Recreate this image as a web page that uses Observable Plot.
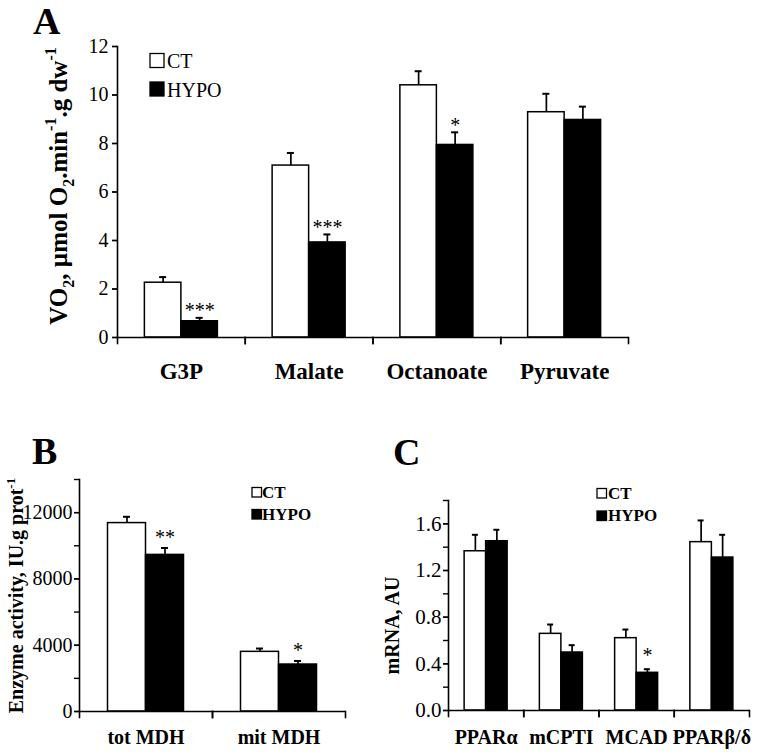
<!DOCTYPE html>
<html><head><meta charset="utf-8">
<script src="https://cdn.jsdelivr.net/npm/d3@7"></script>
<script src="https://cdn.jsdelivr.net/npm/@observablehq/plot@0.6"></script>
<style>
body{margin:0;background:#fff;}
#root{position:relative;width:764px;height:756px;background:#fff;font-family:"Liberation Serif",serif;}
.panel{position:absolute;}
</style></head><body><div id="root"></div>
<script>
// ---------- Data ----------
const groups = ["CT", "HYPO"];

// Panel A: VO2 with substrates
const catsA = ["G3P", "Malate", "Octanoate", "Pyruvate"];
const ctA = [2.26, 7.09, 10.40, 9.29];
const ctUpperA = [2.49, 7.61, 10.98, 10.05];
const hypoA = [0.67, 3.92, 7.94, 8.97];
const hypoUpperA = [0.81, 4.25, 8.46, 9.52];
const sigA = ["***", "***", "*", ""];
const yTicksA = [0, 2, 4, 6, 8, 10, 12];

// Panel B: MDH enzyme activity
const catsB = ["tot MDH", "mit MDH"];
const ctB = [11370, 3600];
const ctUpperB = [11750, 3800];
const hypoB = [9450, 2835];
const hypoUpperB = [9865, 3050];
const sigB = ["**", "*"];
const yMinorB = [0, 2000, 4000, 6000, 8000, 10000, 12000, 14000];
const yTicksB = [0, 4000, 8000, 12000];

// Panel C: mRNA
const catsC = ["PPARα", "mCPTI", "MCAD", "PPARβ/δ"];
const ctC = [1.365, 0.657, 0.62, 1.443];
const ctUpperC = [1.506, 0.737, 0.694, 1.629];
const hypoC = [1.451, 0.497, 0.323, 1.311];
const hypoUpperC = [1.549, 0.56, 0.354, 1.506];
const sigC = ["", "", "*", ""];
const yMinorC = [0, 0.2, 0.4, 0.6, 0.8, 1.0, 1.2, 1.4, 1.6, 1.8];
const yTicksC = [0, 0.4, 0.8, 1.2, 1.6];

// ---------- Helpers ----------
function rows(cats, ct, ctU, hy, hyU, sig) {
  return cats.flatMap((c, i) => [
    {cat: c, group: groups[0], value: ct[i], upper: ctU[i], sig: ""},
    {cat: c, group: groups[1], value: hy[i], upper: hyU[i], sig: sig[i]}
  ]);
}

const FONT = '"Liberation Serif", "Times New Roman", serif';

function panel(cfg) {
  const data = rows(...cfg.series);
  const innerH = cfg.height - cfg.marginTop - cfg.marginBottom;
  const svg = Plot.plot({
    width: cfg.width, height: cfg.height,
    marginLeft: cfg.marginLeft, marginRight: cfg.marginRight,
    marginTop: cfg.marginTop, marginBottom: cfg.marginBottom,
    style: {fontFamily: FONT, fontSize: cfg.tickFont + "px", color: "black", background: "white", overflow: "visible"},
    fx: {domain: cfg.series[0], padding: 0, round: false},
    x: {domain: groups, paddingInner: 0, paddingOuter: 0.75, round: false, axis: null},
    y: {domain: cfg.yDomain},
    marks: [
      Plot.ruleX(data, {fx: "cat", x: "group", y1: "value", y2: "upper", stroke: "black", strokeWidth: 1.7}),
      Plot.tickY(data, {fx: "cat", x: "group", y: "upper", stroke: "black", strokeWidth: 2, insetLeft: cfg.capInset, insetRight: cfg.capInset}),
      Plot.barY(data.filter(d => d.group === groups[0]), {fx: "cat", x: "group", y: "value", fill: "white", stroke: "black", strokeWidth: 1.5}),
      Plot.barY(data.filter(d => d.group === groups[1]), {fx: "cat", x: "group", y: "value", fill: "black", stroke: "black", strokeWidth: 1.5}),
      Plot.text(data.filter(d => d.sig), {fx: "cat", x: "group", y: "upper", text: "sig", lineAnchor: "middle", dy: cfg.sigDy, fontSize: cfg.sigFont, fill: "black"}),
      Plot.ruleY([0], {stroke: "black", strokeWidth: 1.6}),
      Plot.frame({anchor: "left", facetAnchor: "left", stroke: "black", strokeWidth: 1.6}),
      Plot.frame({anchor: "left", insetTop: innerH, insetBottom: -6, stroke: "black", strokeWidth: 1.6}),
      Plot.frame({anchor: "right", insetTop: innerH, insetBottom: -6, stroke: "black", strokeWidth: 1.6}),
      Plot.axisY({ticks: cfg.yMinor, tickFormat: () => "", tickSize: 5, strokeWidth: 1.4, label: null}),
      Plot.axisY({ticks: cfg.yTicks, tickFormat: cfg.fmt, tickSize: 5, tickPadding: cfg.tickPad, strokeWidth: 1.4, fontSize: cfg.tickFont, label: null}),
      Plot.axisFx({anchor: "bottom", tickSize: 0, tickPadding: cfg.catPad, fontSize: cfg.catFont, fontWeight: "bold", label: null}),
      Plot.text([cfg.title], {text: d => d, frameAnchor: "left", facetAnchor: "left", rotate: -90, textAnchor: "middle", lineAnchor: "middle", dx: cfg.titleDx, dy: cfg.titleDy, fontSize: cfg.titleFont, fontWeight: "bold", fill: "black"})
    ]
  });
  if (cfg.richTitle) {
    const t = Array.from(svg.querySelectorAll("text")).find(e => e.textContent === cfg.title);
    if (t) {
      while (t.firstChild) t.removeChild(t.firstChild);
      const F = cfg.titleFont;
      let shift = 0;
      for (const [s, kind] of cfg.richTitle) {
        const ts = document.createElementNS("http://www.w3.org/2000/svg", "tspan");
        const target = kind === "sub" ? 0.28 * F : kind === "sup" ? -0.42 * F : 0;
        ts.setAttribute("dy", target - shift);
        if (kind) ts.setAttribute("font-size", Math.round(0.65 * F));
        shift = target;
        ts.textContent = s;
        t.appendChild(ts);
      }
    }
  }
  const wrap = document.createElement("div");
  wrap.className = "panel";
  wrap.style.left = cfg.left + "px";
  wrap.style.top = cfg.top + "px";
  wrap.appendChild(svg);
  document.getElementById("root").appendChild(wrap);
}

// ---------- Panel A ----------
panel({
  series: [catsA, ctA, ctUpperA, hypoA, hypoUpperA, sigA],
  left: 0, top: 0, width: 640, height: 390,
  marginLeft: 117, marginRight: 12, marginTop: 46, marginBottom: 53,
  yDomain: [0, 12], yMinor: yTicksA, yTicks: yTicksA, fmt: d3.format("d"), tickPad: 4,
  tickFont: 20, catFont: 23, catPad: 25, capInset: 14.75, sigFont: 20, sigDy: -7,
  title: "VO2, µmol O2.min-1.g dw-1", titleFont: 25, titleDx: -59, titleDy: -6,
  richTitle: [["VO", null], ["2", "sub"], [", µmol O", null], ["2", "sub"], [".min", null], ["-1", "sup"], [".g dw", null], ["-1", "sup"]]
});

// ---------- Panel B ----------
panel({
  series: [catsB, ctB, ctUpperB, hypoB, hypoUpperB, sigB],
  left: 0, top: 400, width: 360, height: 356,
  marginLeft: 79, marginRight: 15, marginTop: 79, marginBottom: 45,
  yDomain: [0, 14000], yMinor: yMinorB, yTicks: yTicksB, fmt: d3.format("d"), tickPad: 2,
  tickFont: 20, catFont: 20, catPad: 18, capInset: 15.5, sigFont: 20, sigDy: -10.5,
  title: "Enzyme activity, IU.g prot-1", titleFont: 20, titleDx: -63, titleDy: 0,
  richTitle: [["Enzyme activity, IU.g prot", null], ["-1", "sup"]]
});

// ---------- Panel C ----------
panel({
  series: [catsC, ctC, ctUpperC, hypoC, hypoUpperC, sigC],
  left: 380, top: 400, width: 384, height: 356,
  marginLeft: 68, marginRight: 15, marginTop: 100, marginBottom: 46,
  yDomain: [0, 1.8], yMinor: yMinorC, yTicks: yTicksC, fmt: d3.format(".1f"), tickPad: 2,
  tickFont: 21, catFont: 20, catPad: 19, capInset: 7.75, sigFont: 20, sigDy: -14,
  title: "mRNA, AU", titleFont: 20, titleDx: -56, titleDy: 20,
  richTitle: null
});

// ---------- Overlay: panel letters and legends ----------
const letters = ["A", "B", "C"];
const letterPos = [[33, 34], [32, 464], [393, 465]];
const legendCfg = [
  {x: 150, y: 53.5, box: 14, gap: 28.5, font: 20, weight: "normal", tx: 167},
  {x: 252, y: 487.5, box: 9.5, gap: 22, font: 17, weight: "bold", tx: 262},
  {x: 597, y: 488.5, box: 9.5, gap: 22.5, font: 17, weight: "bold", tx: 608}
];
const overlay = d3.create("svg")
  .attr("width", 764).attr("height", 756)
  .style("position", "absolute").style("left", "0px").style("top", "0px")
  .style("pointer-events", "none")
  .attr("font-family", FONT);
letters.forEach((L, i) => {
  overlay.append("text").attr("x", letterPos[i][0]).attr("y", letterPos[i][1])
    .attr("font-size", 38).attr("font-weight", "bold").text(L);
});
legendCfg.forEach(c => {
  groups.forEach((g, j) => {
    const y = c.y + j * c.gap;
    overlay.append("rect").attr("x", c.x).attr("y", y).attr("width", c.box).attr("height", c.box)
      .attr("fill", j === 0 ? "white" : "black").attr("stroke", "black").attr("stroke-width", 1.3);
    overlay.append("text").attr("x", c.tx).attr("y", y + c.box + 0.5)
      .attr("font-size", c.font).attr("font-weight", c.weight).text(g);
  });
});
document.getElementById("root").appendChild(overlay.node());
</script>
</body></html>
